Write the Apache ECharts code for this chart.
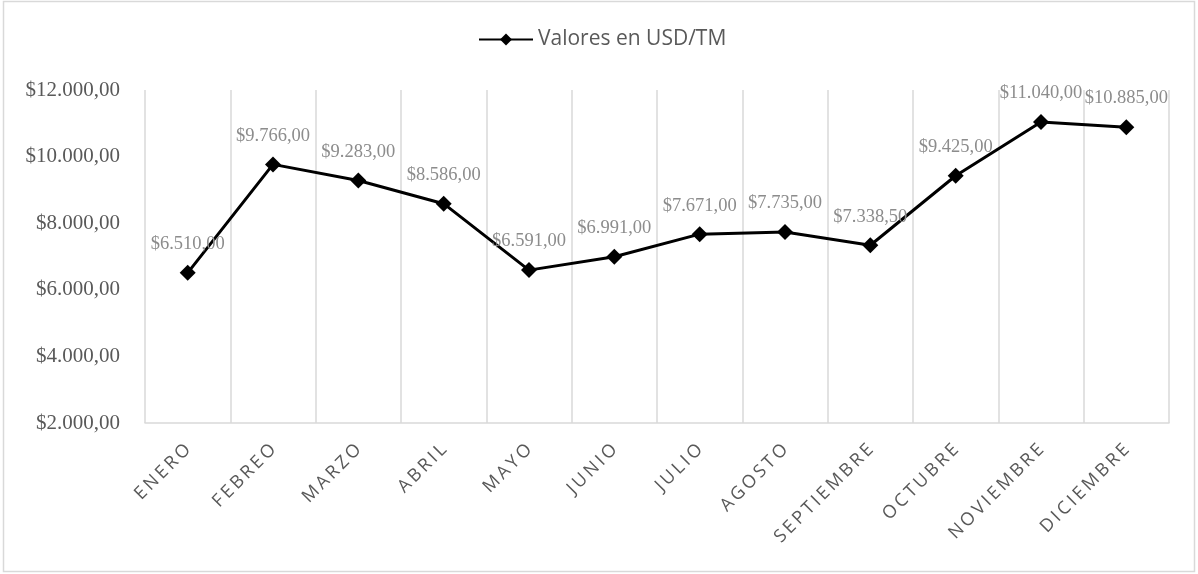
<!DOCTYPE html>
<html>
<head>
<meta charset="utf-8">
<script src="https://cdn.jsdelivr.net/npm/echarts@6/dist/echarts.min.js"></script>
<style>
  html, body {margin: 0; padding: 0; background: #fff;}
  #chart {width: 1198px; height: 574px;}
</style>
</head>
<body>
<div id="chart"></div>
<script>
const SERIES_NAME = "Valores en USD/TM";
const MONTHS = ["ENERO", "FEBREO", "MARZO", "ABRIL", "MAYO", "JUNIO", "JULIO", "AGOSTO", "SEPTIEMBRE", "OCTUBRE", "NOVIEMBRE", "DICIEMBRE"];
const PRICES = [6510, 9766, 9283, 8586, 6591, 6991, 7671, 7735, 7338.5, 9425, 11040, 10885];
const Y_MIN = 2000;
const Y_MAX = 12000;
const Y_STEP = 2000;

function formatMoney(value) {
  const [intPart, decPart] = Number(value).toFixed(2).split(".");
  return "$" + intPart.replace(/\B(?=(\d{3})+(?!\d))/g, ".") + "," + decPart;
}

// the axis labels are letter-spaced in the original
function spaced(text) {
  return text.split("").join("\u2009");
}

const chart = echarts.init(document.getElementById("chart"));
chart.setOption({
  animation: false,
  backgroundColor: "#fff",
  graphic: [{
    type: "rect",
    shape: {x: 3.5, y: 1.5, width: 1191, height: 570},
    style: {fill: "none", stroke: "#d9d9d9", lineWidth: 1.5},
    silent: true,
  }],
  legend: {
    top: 24,
    left: 473,
    itemWidth: 54,
    itemHeight: 15,
    itemGap: 5,
    textStyle: {fontFamily: "Open Sans", fontSize: 21, color: "#595959"},
    data: [{name: SERIES_NAME}],
  },
  grid: {left: 145, right: 29, top: 90, bottom: 151},
  xAxis: {
    type: "category",
    data: MONTHS,
    boundaryGap: true,
    axisLine: {show: true, lineStyle: {color: "#d9d9d9", width: 1.5}},
    axisTick: {show: false},
    splitLine: {show: true, lineStyle: {color: "#d9d9d9", width: 1.5}},
    axisLabel: {
      rotate: 45,
      margin: 24,
      interval: 0,
      fontFamily: "Open Sans",
      fontSize: 18,
      color: "#595959",
      formatter: value => spaced(value),
    },
  },
  yAxis: {
    type: "value",
    min: Y_MIN,
    max: Y_MAX,
    interval: Y_STEP,
    axisLine: {show: false},
    axisTick: {show: false},
    splitLine: {show: false},
    axisLabel: {
      margin: 25,
      fontFamily: "Liberation Serif",
      fontSize: 21,
      color: "#595959",
      formatter: value => formatMoney(value),
    },
  },
  series: [{
    name: SERIES_NAME,
    type: "line",
    data: PRICES,
    symbol: "diamond",
    symbolSize: 16,
    itemStyle: {color: "#000"},
    lineStyle: {color: "#000", width: 3},
    label: {
      show: true,
      position: "top",
      distance: 11,
      fontFamily: "Liberation Serif",
      fontSize: 18.5,
      color: "#8c8c8c",
      formatter: params => formatMoney(params.value),
    },
  }],
});
</script>
</body>
</html>
